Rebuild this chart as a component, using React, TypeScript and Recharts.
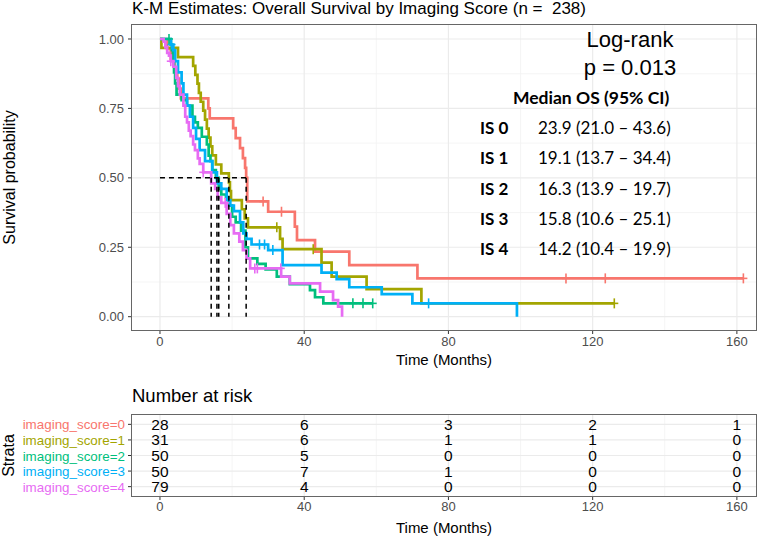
import {
  CartesianGrid,
  ComposedChart,
  Line,
  ReferenceLine,
  Scatter,
  XAxis,
  YAxis,
} from "recharts";

const strata = [
  "imaging_score=0",
  "imaging_score=1",
  "imaging_score=2",
  "imaging_score=3",
  "imaging_score=4",
];
const shortNames = ["IS 0", "IS 1", "IS 2", "IS 3", "IS 4"];
const medianText = [
  "23.9 (21.0 \u2013 43.6)",
  "19.1 (13.7 \u2013 34.4)",
  "16.3 (13.9 \u2013 19.7)",
  "15.8 (10.6 \u2013 25.1)",
  "14.2 (10.4 \u2013 19.9)",
];
const medians = [23.9, 19.1, 16.3, 15.8, 14.2];
const colors = ["#F8766D", "#A3A500", "#00BF7D", "#00B0F6", "#E76BF3"];

const timeTicks = [0, 40, 80, 120, 160];
const timeMinor = [20, 60, 100, 140];
const survTicks = [0, 0.25, 0.5, 0.75, 1];
const survMinor = [0.125, 0.375, 0.625, 0.875];

// step times / survival
const times0 = [0, 2, 3, 4, 4.8, 5.3, 5.8, 13.4, 13.8, 20.3, 21, 22.2, 23, 23.6, 23.9, 24.2, 30, 37.4, 38, 43, 52.5, 71.4, 161.8];
const surv0 = [1, 0.964, 0.929, 0.893, 0.857, 0.821, 0.786, 0.75, 0.714, 0.679, 0.643, 0.607, 0.571, 0.536, 0.5, 0.415, 0.378, 0.324, 0.276, 0.234, 0.186, 0.138, 0.138];
const censor0 = [28.6, 33.7, 112.6, 123.5, 161.8];

const times1 = [0, 0.4, 5, 9.2, 9.8, 10.4, 10.8, 11.3, 12, 12.5, 13, 13.5, 14, 14.5, 15.5, 17, 19.1, 19.4, 19.7, 22.7, 23.5, 24.4, 33.3, 34, 44.8, 47.6, 57.3, 72.5, 126];
const surv1 = [1, 0.968, 0.935, 0.903, 0.871, 0.839, 0.806, 0.774, 0.742, 0.71, 0.677, 0.645, 0.613, 0.581, 0.548, 0.516, 0.484, 0.452, 0.42, 0.387, 0.354, 0.322, 0.28, 0.243, 0.195, 0.144, 0.099, 0.048, 0.048];
const censor1 = [32.4, 42.5, 126];

const times2 = [0, 3, 3.3, 3.6, 3.9, 4.2, 4.6, 6, 7.5, 9, 9.7, 10.5, 11.6, 13, 13.5, 14, 14.5, 15.5, 16.3, 17, 18.3, 19, 20, 21, 22.5, 23.7, 24.4, 27, 29.3, 32.4, 36, 41.6, 43, 45.3, 59];
const surv2 = [1, 0.98, 0.96, 0.92, 0.88, 0.84, 0.8, 0.78, 0.76, 0.72, 0.7, 0.68, 0.648, 0.62, 0.58, 0.56, 0.528, 0.5, 0.46, 0.44, 0.43, 0.4, 0.36, 0.34, 0.31, 0.25, 0.21, 0.19, 0.17, 0.144, 0.117, 0.096, 0.07, 0.048, 0.048];
const censor2 = [2.5, 53.5, 56.3, 59];

const times3 = [0, 3, 3.7, 4.2, 5, 6, 6.5, 7.5, 8.3, 9.2, 10, 11, 12.5, 14.5, 15.8, 17, 18.5, 19.5, 20.5, 22.2, 23.1, 24, 25.4, 30, 34, 44.8, 49, 52.5, 61.5, 70, 99];
const surv3 = [1, 0.98, 0.96, 0.92, 0.88, 0.84, 0.8, 0.76, 0.72, 0.68, 0.64, 0.6, 0.56, 0.52, 0.48, 0.46, 0.42, 0.4, 0.38, 0.34, 0.3, 0.28, 0.26, 0.24, 0.186, 0.159, 0.135, 0.106, 0.081, 0.048, 0];
const censor3 = [3.2, 27.6, 29, 31.3, 74.5];

const times4 = [0, 1, 1.5, 2, 2.5, 3, 3.7, 4.5, 5, 5.5, 6.5, 7, 7.5, 8, 8.5, 9.2, 9.7, 10.5, 11, 12, 14.2, 15.3, 16, 17, 18.5, 19.5, 20.5, 22, 23, 24, 25, 33.6, 36, 44.4, 48, 49.4, 50.5];
const surv4 = [1, 0.99, 0.97, 0.95, 0.94, 0.92, 0.9, 0.86, 0.83, 0.8, 0.76, 0.72, 0.7, 0.67, 0.65, 0.62, 0.6, 0.57, 0.55, 0.52, 0.48, 0.46, 0.43, 0.41, 0.37, 0.33, 0.3, 0.27, 0.24, 0.21, 0.174, 0.144, 0.12, 0.09, 0.06, 0.036, 0];
const censor4 = [3, 12, 18.1, 26.3, 27, 33.5];

const riskCounts = [
  [28, 6, 3, 2, 1],
  [31, 6, 1, 1, 0],
  [50, 5, 0, 0, 0],
  [50, 7, 1, 0, 0],
  [79, 4, 0, 0, 0],
];

const allTimes = [times0, times1, times2, times3, times4];
const allSurv = [surv0, surv1, surv2, surv3, surv4];
const allCensor = [censor0, censor1, censor2, censor3, censor4];

function survAt(t: number, times: number[], surv: number[]) {
  let s = surv[0];
  for (let i = 0; i < times.length; i++) if (times[i] <= t) s = surv[i];
  return s;
}

const curves = allTimes.map((ts, k) => ts.map((t, i) => ({ t, s: allSurv[k][i] })));
const censors = allCensor.map((cs, k) =>
  cs.map((t) => ({ t, s: survAt(t, allTimes[k], allSurv[k]) }))
);
const riskRows = riskCounts.flatMap((row, r) =>
  row.map((n, i) => ({ t: timeTicks[i], row: r + 1, n }))
);

const X_DOMAIN: [number, number] = [-7.76, 165.3];
const AXIS_GREY = "#4d4d4d";

const plus = (color: string) => (p: any) => (
  <g stroke={color} strokeWidth={1.6}>
    <line x1={p.cx - 4} x2={p.cx + 4} y1={p.cy} y2={p.cy} />
    <line x1={p.cx} x2={p.cx} y1={p.cy - 5} y2={p.cy + 5} />
  </g>
);

const StrataTick = (p: any) => (
  <text x={p.x} y={p.y} dy={5} textAnchor="end" fontSize={13.4} fill={colors[p.payload.value - 1]}>
    {strata[p.payload.value - 1]}
  </text>
);

const panelBorder = (left: number, top: number, w: number, h: number) => (
  <div
    style={{
      position: "absolute",
      left,
      top,
      width: w,
      height: h,
      border: "1px solid #666",
      pointerEvents: "none",
    }}
  />
);

const calibri = "Lato, sans-serif";

export default function App() {
  return (
    <div
      style={{
        position: "absolute",
        left: 0,
        top: 0,
        width: 758,
        height: 538,
        background: "#fff",
        fontFamily: '"Liberation Sans", Arial, sans-serif',
        overflow: "hidden",
      }}
    >
      <div style={{ position: "absolute", left: 132, top: 0, fontSize: 17, lineHeight: "18px", whiteSpace: "pre" }}>
        K-M Estimates: Overall Survival by Imaging Score (n =  238)
      </div>

      <div style={{ position: "absolute", left: 0, top: 0 }}>
        <ComposedChart width={758} height={375} margin={{ top: 25, right: 2, bottom: 0, left: 0 }}>
          <CartesianGrid horizontalValues={survMinor} verticalValues={timeMinor} stroke="#f3f3f3" strokeWidth={0.8} />
          <CartesianGrid horizontalValues={survTicks} verticalValues={timeTicks} stroke="#ebebeb" strokeWidth={1.2} />
          <XAxis
            type="number"
            dataKey="t"
            domain={X_DOMAIN}
            allowDataOverflow
            ticks={timeTicks}
            height={45}
            tickSize={4}
            tickMargin={3}
            axisLine={false}
            tickLine={{ stroke: "#333" }}
            tick={{ fontSize: 13, fill: AXIS_GREY }}
            label={{ value: "Time (Months)", position: "insideBottom", offset: 10, fontSize: 15, fill: "#000" }}
          />
          <YAxis
            type="number"
            domain={[-0.0479, 1.0504]}
            allowDataOverflow
            ticks={survTicks}
            width={132}
            tickSize={4}
            tickMargin={4}
            axisLine={false}
            tickLine={{ stroke: "#333" }}
            tickFormatter={(v) => Number(v).toFixed(2)}
            tick={{ fontSize: 13, fill: AXIS_GREY }}
            label={{ value: "Survival probability", angle: -90, position: "insideLeft", offset: 9, fontSize: 16, fill: "#000", style: { textAnchor: "middle" } }}
          />
          {curves.map((d, k) => (
            <Line
              key={strata[k]}
              data={d}
              dataKey="s"
              type="stepAfter"
              stroke={colors[k]}
              strokeWidth={2.7}
              dot={false}
              isAnimationActive={false}
            />
          ))}
          {censors.map((d, k) => (
            <Scatter
              key={"c" + k}
              data={d}
              dataKey="s"
              shape={plus(colors[k])}
              isAnimationActive={false}
            />
          ))}
          <ReferenceLine
            segment={[
              { x: 0, y: 0.5 },
              { x: Math.max(...medians), y: 0.5 },
            ]}
            stroke="#000"
            strokeWidth={1.5}
            strokeDasharray="5 4"
          />
          {medians.map((m, k) => (
            <ReferenceLine
              key={"m" + k}
              segment={[
                { x: m, y: 0.5 },
                { x: m, y: 0 },
              ]}
              stroke="#000"
              strokeWidth={1.5}
              strokeDasharray="5 4"
            />
          ))}
        </ComposedChart>
      </div>
      {panelBorder(131, 24, 624, 305)}

      <div style={{ position: "absolute", left: 530, top: 27, width: 200, textAlign: "center", fontSize: 22, lineHeight: "26px" }}>
        Log-rank
      </div>
      <div style={{ position: "absolute", left: 530, top: 55, width: 200, textAlign: "center", fontSize: 22, lineHeight: "26px" }}>
        p = 0.013
      </div>
      <div style={{ position: "absolute", left: 513, top: 88, fontFamily: calibri, fontWeight: 700, fontSize: 17.5, lineHeight: "20px" }}>
        Median OS (95% CI)
      </div>
      {shortNames.map((nm, k) => (
        <div key={nm} style={{ position: "absolute", left: 480, top: 118 + k * 30.3, fontFamily: calibri, fontSize: 17, lineHeight: "20px", whiteSpace: "pre" }}>
          <span style={{ fontWeight: 700 }}>{nm}</span>
          <span style={{ position: "absolute", left: 58 }}>{medianText[k]}</span>
        </div>
      ))}

      <div style={{ position: "absolute", left: 132, top: 385, fontSize: 18.5, lineHeight: "22px" }}>Number at risk</div>

      <div style={{ position: "absolute", left: 0, top: 375 }}>
        <ComposedChart width={758} height={163} margin={{ top: 40, right: 2, bottom: 0, left: 0 }}>
          <CartesianGrid horizontal={false} verticalValues={timeMinor} stroke="#f3f3f3" strokeWidth={0.8} />
          <CartesianGrid horizontalValues={[1, 2, 3, 4, 5]} verticalValues={timeTicks} stroke="#ebebeb" strokeWidth={1.2} />
          <XAxis
            type="number"
            dataKey="t"
            domain={X_DOMAIN}
            allowDataOverflow
            ticks={timeTicks}
            height={42}
            tickSize={4}
            tickMargin={2}
            axisLine={false}
            tickLine={{ stroke: "#333" }}
            tick={{ fontSize: 13, fill: AXIS_GREY }}
            label={{ value: "Time (Months)", position: "insideBottom", offset: 5, fontSize: 15, fill: "#000" }}
          />
          <YAxis
            type="number"
            dataKey="row"
            domain={[0.4, 5.6]}
            reversed
            ticks={[1, 2, 3, 4, 5]}
            interval={0}
            width={132}
            tickSize={4}
            tickMargin={3}
            axisLine={false}
            tickLine={{ stroke: "#333" }}
            tick={StrataTick}
            label={{ value: "Strata", angle: -90, position: "insideLeft", offset: 8, fontSize: 16, fill: "#000", style: { textAnchor: "middle" } }}
          />
          <Scatter
            data={riskRows}
            dataKey="row"
            isAnimationActive={false}
            shape={(p: any) => (
              <text x={p.cx} y={p.cy} dy={5.5} textAnchor="middle" fontSize={15.5} fill="#000">
                {p.payload.n}
              </text>
            )}
          />
        </ComposedChart>
      </div>
      {panelBorder(131, 414, 624, 81)}
    </div>
  );
}
